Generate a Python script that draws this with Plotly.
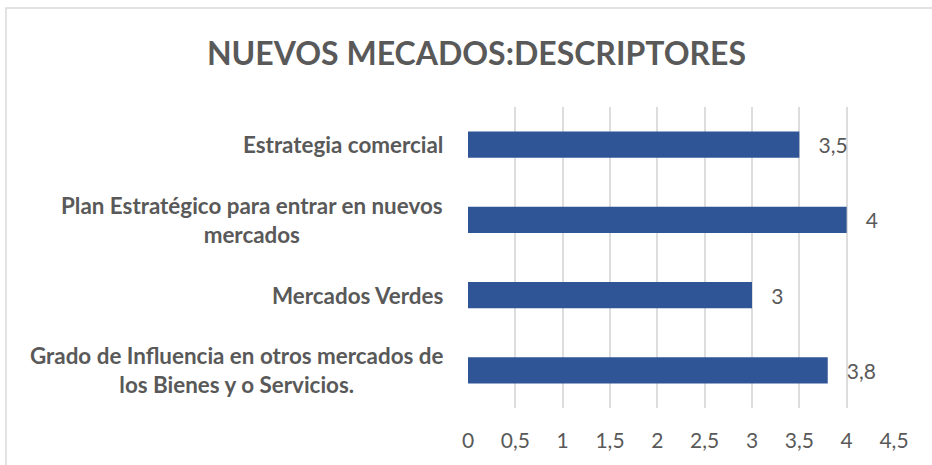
import plotly.graph_objects as go

categories = [
    "Estrategia comercial",
    "Plan Estratégico para entrar en nuevos<br>mercados",
    "Mercados Verdes",
    "Grado de Influencia en otros mercados de<br>los Bienes y o Servicios.",
]
values = [3.5, 4, 3, 3.8]
value_labels = ["3,5", "4", "3", "3,8"]
tick_vals = [0, 0.5, 1, 1.5, 2, 2.5, 3, 3.5, 4, 4.5]
tick_text = ["0", "0,5", "1", "1,5", "2", "2,5", "3", "3,5", "4", "4,5"]

FONT = "Lato, Calibri, 'Open Sans', sans-serif"
GRAY = "#595959"
PAD = "\u00a0\u00a0\u00a0"

fig = go.Figure()
fig.add_trace(go.Bar(
    y=categories, x=values, orientation="h",
    marker=dict(color="#2F5597", line=dict(color="#2F5597", width=0)),
    text=[PAD + t for t in value_labels], textposition="outside",
    textfont=dict(family=FONT, size=21, color=GRAY),
    constraintext="none",
    cliponaxis=False,
))

for c in categories:
    fig.add_annotation(
        x=-0.054, xref="paper", y=c, yref="y", text=f"<b>{c}</b>",
        showarrow=False, xanchor="right", yanchor="middle", align="center",
        font=dict(family=FONT, size=22.4, color=GRAY),
    )

fig.update_layout(
    width=932, height=465,
    margin=dict(l=468, r=38, t=107, b=57),
    paper_bgcolor="white", plot_bgcolor="white",
    showlegend=False,
    bargap=0.65,
    title=dict(text="<b>NUEVOS MECADOS:DESCRIPTORES</b>", x=476.5 / 932, xanchor="center",
               y=0.885, yanchor="middle",
               font=dict(family=FONT, size=32, color=GRAY)),
    xaxis=dict(range=[0, 4.5], tickvals=tick_vals, ticktext=tick_text,
               showgrid=True, gridcolor="#DDDDDD", gridwidth=1.5,
               zeroline=False, showline=False,
               ticks="outside", ticklen=14, tickcolor="rgba(0,0,0,0)",
               tickfont=dict(family=FONT, size=21, color=GRAY)),
    yaxis=dict(autorange="reversed", showticklabels=False, showgrid=False,
               zeroline=False, showline=False),
    shapes=[dict(type="rect", xref="paper", yref="paper",
                 x0=-462/426, x1=1.2, y0=-0.5, y1=1 + 99/301,
                 line=dict(color="#D9D9D9", width=1.5), fillcolor="rgba(0,0,0,0)",
                 layer="below")],
)
fig.update_xaxes(layer="below traces")

fig.write_html("out.html", config={"displayModeBar": False},
               post_script="document.body.style.margin='0';")
